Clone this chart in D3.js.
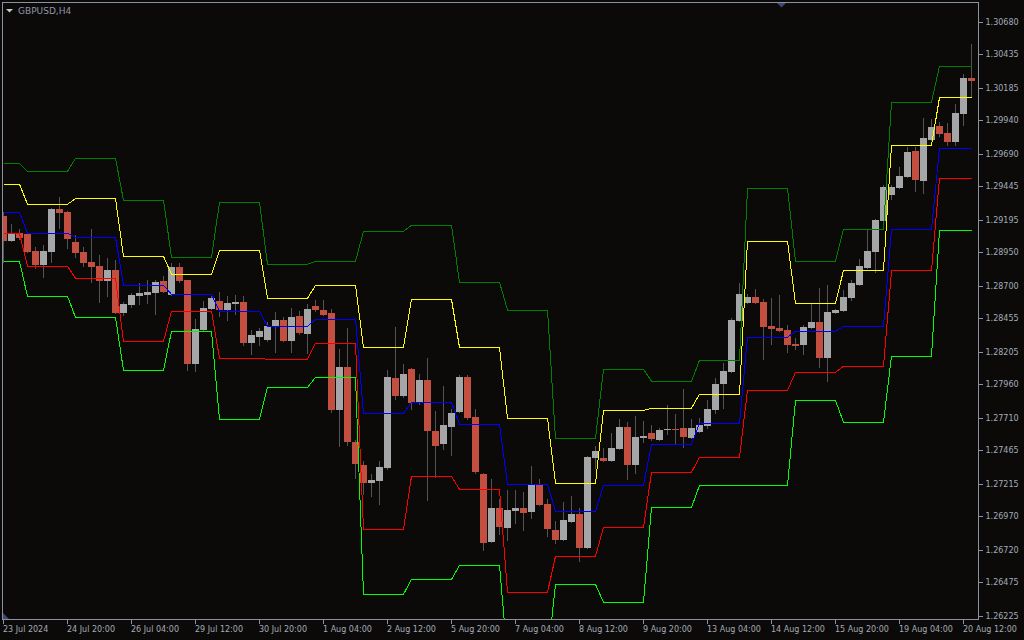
<!DOCTYPE html>
<html>
<head>
<meta charset="utf-8">
<script src="https://cdn.jsdelivr.net/npm/d3@7"></script>
<style>
  body { margin: 0; background: #0c0a08; }
  svg { display: block; }
  text { font-family: "DejaVu Sans", sans-serif; }
</style>
</head>
<body>
<div id="chart"></div>
<script>
// GBPUSD H4 candles, bar 0 = 23 Jul 12:00 ... bar 121 = 20 Aug 16:00
var opens = [1.29225,1.29038,1.29098,1.29090,1.28963,1.28858,1.28955,1.29278,1.29255,1.29030,
  1.28955,1.28880,1.28850,1.28738,1.28820,1.28498,1.28558,1.28625,1.28633,1.28648,
  1.28738,1.28633,1.28843,1.28745,1.28115,1.28370,1.28528,1.28588,1.28520,1.28565,
  1.28580,1.28273,1.28318,1.28295,1.28400,1.28445,1.28288,1.28475,1.28340,1.28550,
  1.28520,1.28498,1.27770,1.28093,1.27530,1.27358,1.27223,1.27238,1.27335,1.28010,
  1.27875,1.28078,1.27830,1.27995,1.27613,1.27515,1.27643,1.27755,1.28018,1.27718,
  1.27290,1.26780,1.27035,1.26885,1.27013,1.27035,1.27005,1.27208,1.27065,1.26870,
  1.26795,1.26930,1.26990,1.26735,1.27410,1.27410,1.27388,1.27478,1.27643,1.27358,
  1.27560,1.27598,1.27545,1.27620,1.27628,1.27635,1.27560,1.27605,1.27650,1.27770,
  1.27965,1.28055,1.28438,1.28573,1.28618,1.28580,1.28400,1.28385,1.28370,1.28265,
  1.28258,1.28385,1.28430,1.28160,1.28498,1.28513,1.28610,1.28708,1.28835,1.28955,
  1.29188,1.29383,1.29435,1.29518,1.29713,1.29488,1.29795,1.29900,1.29848,1.29780,
  1.29990,1.30260];
var highs = [1.29255,1.29165,1.29128,1.29098,1.28993,1.29008,1.29285,1.29368,1.29263,1.29083,
  1.28993,1.29128,1.28933,1.28910,1.28895,1.28580,1.28648,1.28723,1.28745,1.28745,
  1.28775,1.28873,1.28873,1.28745,1.28453,1.28588,1.28625,1.28655,1.28625,1.28633,
  1.28625,1.28370,1.28385,1.28430,1.28505,1.28468,1.28535,1.28513,1.28565,1.28595,
  1.28595,1.28528,1.28228,1.28385,1.27545,1.27388,1.27290,1.27388,1.28070,1.28393,
  1.28115,1.28085,1.28040,1.28160,1.27763,1.27950,1.27778,1.28033,1.28033,1.27778,
  1.27295,1.27253,1.27103,1.27170,1.27170,1.27155,1.27350,1.27253,1.27103,1.26938,
  1.27080,1.27125,1.27035,1.27425,1.27500,1.27485,1.27598,1.27703,1.27680,1.27725,
  1.27688,1.27658,1.27635,1.27808,1.27740,1.27928,1.27703,1.27710,1.27845,1.28010,
  1.28123,1.28460,1.28723,1.28640,1.28678,1.28603,1.28610,1.28633,1.28408,1.28310,
  1.28408,1.28565,1.28685,1.28708,1.28528,1.28670,1.28745,1.28903,1.29120,1.29203,
  1.29458,1.29458,1.29593,1.29743,1.29743,1.29960,1.29953,1.29930,1.29923,1.30065,
  1.30290,1.30515];
var lows = [1.28873,1.29030,1.29045,1.28948,1.28828,1.28760,1.28873,1.29128,1.28978,1.28910,
  1.28843,1.28723,1.28573,1.28618,1.28490,1.28475,1.28535,1.28558,1.28565,1.28483,
  1.28648,1.28625,1.28723,1.28063,1.28055,1.28363,1.28520,1.28468,1.28438,1.28483,
  1.28250,1.28183,1.28250,1.28280,1.28198,1.28280,1.28198,1.28333,1.28190,1.28505,
  1.28475,1.27748,1.27493,1.27500,1.27253,1.27133,1.27118,1.27058,1.27320,1.27845,
  1.27860,1.27770,1.27808,1.27088,1.27260,1.27470,1.27425,1.27748,1.27695,1.27290,
  1.26713,1.26773,1.26833,1.26788,1.26915,1.26863,1.26953,1.27050,1.26818,1.26765,
  1.26788,1.26923,1.26630,1.26728,1.27328,1.27380,1.27380,1.27470,1.27245,1.27290,
  1.27523,1.27538,1.27538,1.27583,1.27515,1.27485,1.27553,1.27598,1.27628,1.27740,
  1.27778,1.28048,1.28430,1.28565,1.28565,1.28145,1.28258,1.28355,1.28198,1.28220,
  1.28183,1.28378,1.28085,1.27980,1.28490,1.28505,1.28588,1.28700,1.28828,1.28798,
  1.29180,1.29345,1.29428,1.29510,1.29405,1.29390,1.29788,1.29818,1.29750,1.29750,
  1.29900,1.30118];
var closes = [1.29038,1.29090,1.29060,1.28955,1.28858,1.28963,1.29278,1.29248,1.29053,1.28948,
  1.28873,1.28843,1.28738,1.28820,1.28498,1.28565,1.28633,1.28648,1.28655,1.28730,
  1.28655,1.28843,1.28738,1.28115,1.28378,1.28535,1.28610,1.28520,1.28573,1.28580,
  1.28273,1.28333,1.28363,1.28400,1.28445,1.28288,1.28468,1.28348,1.28528,1.28520,
  1.28483,1.27770,1.28093,1.27530,1.27365,1.27223,1.27245,1.27343,1.28018,1.27875,
  1.28040,1.27823,1.27995,1.27613,1.27500,1.27658,1.27748,1.28018,1.27710,1.27305,
  1.26773,1.27035,1.26893,1.27020,1.27035,1.26998,1.27208,1.27058,1.26878,1.26795,
  1.26945,1.26990,1.26735,1.27418,1.27463,1.27388,1.27485,1.27643,1.27358,1.27568,
  1.27575,1.27553,1.27620,1.27628,1.27620,1.27568,1.27635,1.27658,1.27778,1.27965,
  1.28063,1.28445,1.28640,1.28618,1.28573,1.28393,1.28378,1.28363,1.28258,1.28250,
  1.28393,1.28430,1.28160,1.28505,1.28520,1.28618,1.28723,1.28850,1.28963,1.29195,
  1.29443,1.29443,1.29525,1.29705,1.29495,1.29810,1.29893,1.29840,1.29780,1.29998,
  1.30260,1.30238];

// daily pivot levels, one value per trading day; dayStart = first bar of each day
var dayStart = [0,3,9,15,21,27,33,39,45,51,57,63,69,75,81,87,93,99,105,111,117];
var r2 = [1.29620,1.29560,1.29658,1.29343,1.28915,1.29328,1.28863,1.28885,1.29110,1.29155,1.28728,
  1.28520,1.27558,1.28075,1.27985,1.28143,1.29433,1.28885,1.29125,1.30078,1.30350];
var r1 = [1.29463,1.29313,1.29355,1.28923,1.28788,1.28968,1.28608,1.28705,1.28240,1.28600,1.28240,
  1.27708,1.27220,1.27768,1.27783,1.27888,1.29035,1.28570,1.28818,1.29755,1.30112];
var pp = [1.29253,1.29095,1.29065,1.28705,1.28638,1.28510,1.28398,1.28450,1.27745,1.27828,1.27663,
  1.27213,1.27010,1.27205,1.27513,1.27670,1.28315,1.28360,1.28398,1.29125,1.29733];
var s1 = [1.29095,1.28848,1.28758,1.28285,1.28510,1.28158,1.28150,1.28270,1.26875,1.27273,1.27175,
  1.26403,1.26673,1.26890,1.27303,1.27415,1.27918,1.28053,1.28098,1.28813,1.29510];
var s2 = [1.28885,1.28623,1.28465,1.28068,1.28360,1.27700,1.27940,1.28015,1.26388,1.26500,1.26605,
  1.25906,1.26463,1.26328,1.27039,1.27205,1.27205,1.27841,1.27678,1.28175,1.29118];

// axis labels
var timeLabels = ['23 Jul 2024','24 Jul 20:00','26 Jul 04:00','29 Jul 12:00','30 Jul 20:00',
  '1 Aug 04:00','2 Aug 12:00','5 Aug 20:00','7 Aug 04:00','8 Aug 12:00','9 Aug 20:00',
  '13 Aug 04:00','14 Aug 12:00','15 Aug 20:00','19 Aug 04:00','20 Aug 12:00'];
var priceTicks = [1.30680,1.30435,1.30185,1.29940,1.29690,1.29445,1.29195,1.28950,1.28700,1.28455,
  1.28205,1.27960,1.27710,1.27465,1.27215,1.26970,1.26720,1.26475,1.26225];

var width = 1024, height = 640;
var plotLeft = 3, plotRight = 978, plotTop = 3, plotBottom = 619;

var svg = d3.select('#chart').append('svg')
    .attr('width', width)
    .attr('height', height)
    .style('background', '#0c0a08');

var nBars = opens.length;

var x = d3.scaleLinear()
    .domain([0, nBars - 1])
    .range([3.5, 3.5 + 8 * (nBars - 1)]);

var y = d3.scaleLinear()
    .domain([1.26225, 1.30680])
    .range([616, 22]);

svg.append('clipPath').attr('id', 'plotclip')
  .append('rect')
    .attr('x', plotLeft).attr('y', plotTop)
    .attr('width', plotRight - plotLeft).attr('height', plotBottom - plotTop);

var plot = svg.append('g')
    .attr('clip-path', 'url(#plotclip)')
    .attr('shape-rendering', 'crispEdges');

var bars = d3.range(nBars);

// wicks
plot.selectAll('.wick')
    .data(bars)
  .enter().append('line')
    .attr('class', 'wick')
    .attr('x1', function(i) { return x(i); })
    .attr('x2', function(i) { return x(i); })
    .attr('y1', function(i) { return y(highs[i]); })
    .attr('y2', function(i) { return y(lows[i]); })
    .attr('stroke', '#545454')
    .attr('stroke-width', 1);

// bodies
plot.selectAll('.body')
    .data(bars)
  .enter().append('rect')
    .attr('class', 'body')
    .attr('x', function(i) { return x(i) - 3.5; })
    .attr('width', 7)
    .attr('y', function(i) { return y(Math.max(opens[i], closes[i])); })
    .attr('height', function(i) {
        return Math.max(1, y(Math.min(opens[i], closes[i])) - y(Math.max(opens[i], closes[i])));
    })
    .attr('fill', function(i) { return closes[i] >= opens[i] ? '#a5a6a8' : '#c24f3f'; });

// pivot lines
var dayOf = function(i) { return d3.bisectRight(dayStart, i) - 1; };
var levels = [
    {vals: r2, color: '#008000'},
    {vals: r1, color: '#ffff00'},
    {vals: pp, color: '#0000ff'},
    {vals: s1, color: '#ff0000'},
    {vals: s2, color: '#00ff00'}
];

levels.forEach(function(lv) {
    var line = d3.line()
        .x(function(i) { return x(i); })
        .y(function(i) { return y(lv.vals[dayOf(i)]); });
    plot.append('path')
        .datum(bars)
        .attr('d', line)
        .attr('fill', 'none')
        .attr('stroke', lv.color)
        .attr('stroke-width', 1);
});

// frame
svg.append('rect')
    .attr('x', 2.5).attr('y', 2.5)
    .attr('width', 976).attr('height', 617)
    .attr('fill', 'none')
    .attr('stroke', '#8a92a2')
    .attr('shape-rendering', 'crispEdges');

// price axis
var yaxis = d3.axisRight(y)
    .tickValues(priceTicks)
    .tickFormat(d3.format('.5f'))
    .tickSize(4)
    .offset(0);

var gy = svg.append('g')
    .attr('transform', 'translate(978.5,0)')
    .attr('shape-rendering', 'crispEdges')
    .call(yaxis);
gy.select('.domain').remove();
gy.selectAll('.tick line').attr('stroke', '#8a92a2');
gy.selectAll('.tick text')
    .attr('x', 7)
    .attr('fill', '#a3abba')
    .attr('font-size', '8px')
    .attr('font-family', '"DejaVu Sans", sans-serif');

// time axis
var xaxis = d3.axisBottom(x)
    .tickValues(timeLabels.map(function(d, k) { return k * 8; }))
    .tickFormat(function(d, k) { return timeLabels[k]; })
    .tickSize(4)
    .offset(0);

var gx = svg.append('g')
    .attr('transform', 'translate(0,619.5)')
    .attr('shape-rendering', 'crispEdges')
    .call(xaxis);
gx.select('.domain').remove();
gx.selectAll('.tick line').attr('stroke', '#8a92a2');
gx.selectAll('.tick text')
    .attr('text-anchor', 'start')
    .attr('x', -0.5)
    .attr('y', 7)
    .attr('fill', '#a3abba')
    .attr('font-size', '8px')
    .attr('font-family', '"DejaVu Sans", sans-serif');

// title + markers
svg.append('path')
    .attr('d', 'M6,9 L13,9 L9.5,12.5 Z')
    .attr('fill', '#c8c8c8');
svg.append('text')
    .attr('x', 18).attr('y', 14)
    .attr('font-size', '9px')
    .attr('fill', '#8e97a9')
    .text('GBPUSD,H4');

svg.append('path')
    .attr('d', 'M777,3 L786,3 L781.5,7.5 Z')
    .attr('fill', '#3b4775');
svg.append('path')
    .attr('d', 'M3,613 L3,619 L9,619 Z')
    .attr('fill', '#3b4775');
</script>
</body>
</html>
